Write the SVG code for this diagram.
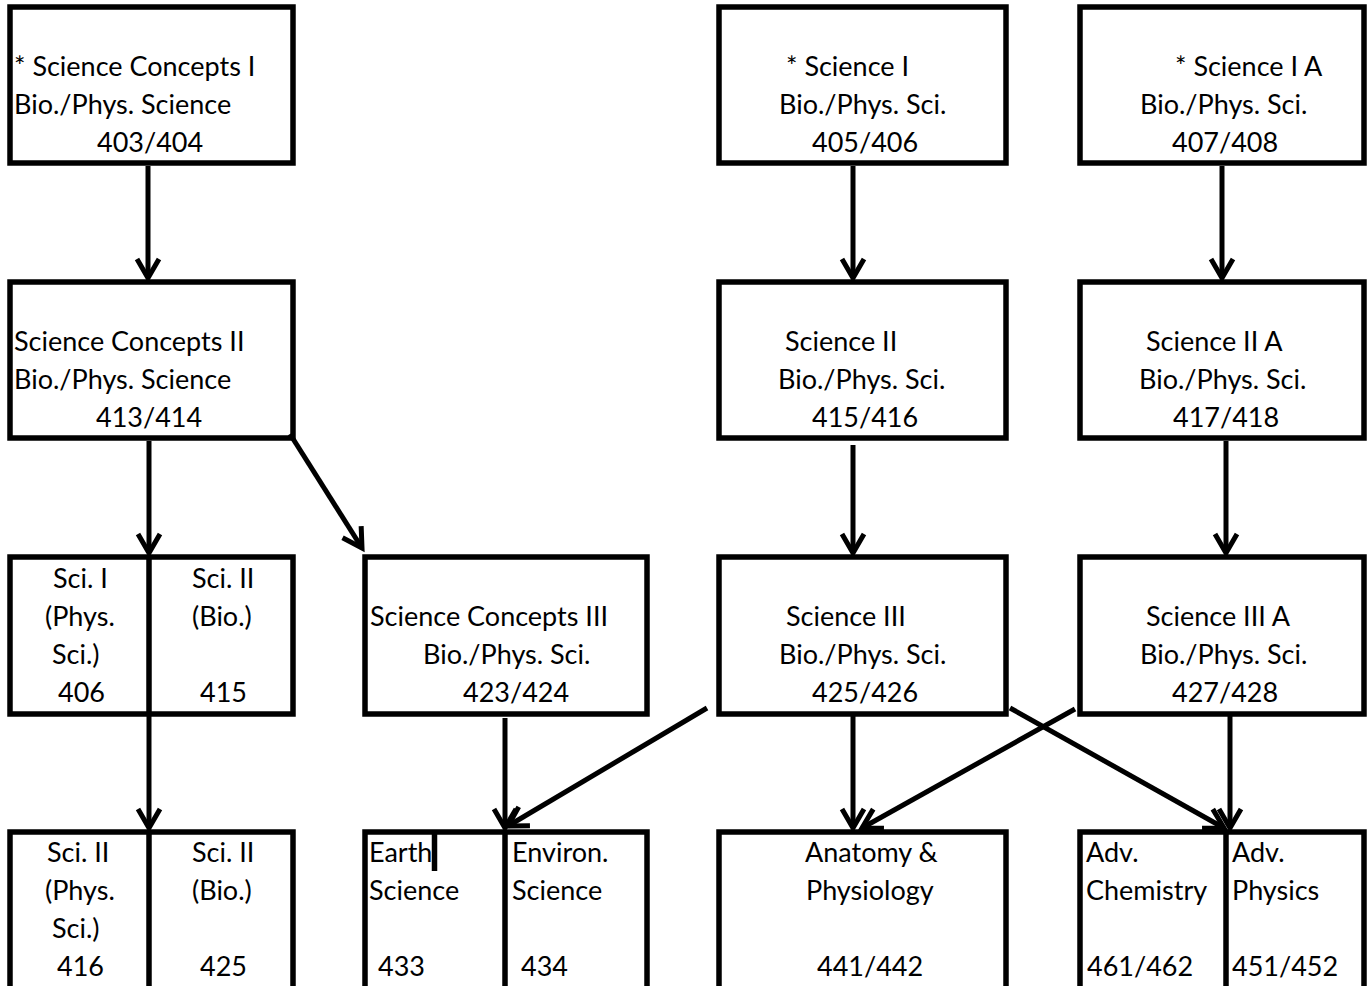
<svg xmlns="http://www.w3.org/2000/svg" width="1369" height="986" viewBox="0 0 1369 986">
<style>
.box{fill:#fff;stroke:#000;stroke-width:5.5}
.div{stroke:#000;stroke-width:5.5}
text{font-family:Lato,"Liberation Sans",sans-serif;font-size:27px;fill:#000}
.c{stroke:#000;stroke-width:5;fill:none}
</style>
<defs>
<marker id="ah" markerUnits="userSpaceOnUse" markerWidth="30" markerHeight="30" viewBox="-24 -15 30 30" refX="0" refY="0" orient="auto" overflow="visible">
<path d="M -19 -11 L 0 0 L -19 11" fill="none" stroke="#000" stroke-width="5"/>
</marker>
</defs>
<rect width="1369" height="986" fill="#fff"/>

<g id="n403">
<rect class="box" x="10" y="7" width="283" height="156"/>
<text x="14" y="76">* Science Concepts I</text>
<text x="14" y="114">Bio./Phys. Science</text>
<text x="97" y="152">403/404</text>
</g>
<g id="n405">
<rect class="box" x="719" y="7" width="287" height="156"/>
<text x="786" y="76">* Science I</text>
<text x="779" y="114">Bio./Phys. Sci.</text>
<text x="812" y="152">405/406</text>
</g>
<g id="n407">
<rect class="box" x="1080" y="7" width="284" height="156"/>
<text x="1175" y="76">* Science I A</text>
<text x="1140" y="114">Bio./Phys. Sci.</text>
<text x="1172" y="152">407/408</text>
</g>

<g id="n413">
<rect class="box" x="10" y="282" width="283" height="156"/>
<text x="14" y="351">Science Concepts II</text>
<text x="14" y="389">Bio./Phys. Science</text>
<text x="96" y="427">413/414</text>
</g>
<g id="n415">
<rect class="box" x="719" y="282" width="287" height="156"/>
<text x="785" y="351">Science II</text>
<text x="778" y="389">Bio./Phys. Sci.</text>
<text x="812" y="427">415/416</text>
</g>
<g id="n417">
<rect class="box" x="1080" y="282" width="284" height="156"/>
<text x="1146" y="351">Science II A</text>
<text x="1139" y="389">Bio./Phys. Sci.</text>
<text x="1173" y="427">417/418</text>
</g>

<g id="n406_415">
<rect class="box" x="10" y="557" width="283" height="157"/>
<line class="div" x1="149" y1="557" x2="149" y2="714"/>
<text x="53" y="588">Sci. I</text>
<text x="45" y="626">(Phys.</text>
<text x="52" y="664">Sci.)</text>
<text x="58" y="702">406</text>
<text x="192" y="588">Sci. II</text>
<text x="192" y="626">(Bio.)</text>
<text x="200" y="702">415</text>
</g>

<g id="n423">
<rect class="box" x="365" y="557" width="282" height="157"/>
<text x="370" y="626">Science Concepts III</text>
<text x="423" y="664">Bio./Phys. Sci.</text>
<text x="463" y="702">423/424</text>
</g>
<g id="n425">
<rect class="box" x="719" y="557" width="287" height="157"/>
<text x="786" y="626">Science III</text>
<text x="779" y="664">Bio./Phys. Sci.</text>
<text x="812" y="702">425/426</text>
</g>
<g id="n427">
<rect class="box" x="1080" y="557" width="284" height="157"/>
<text x="1146" y="626">Science III A</text>
<text x="1140" y="664">Bio./Phys. Sci.</text>
<text x="1172" y="702">427/428</text>
</g>

<g id="n416_425">
<rect class="box" x="10" y="832" width="283" height="170"/>
<line class="div" x1="149" y1="832" x2="149" y2="1000"/>
<text x="47" y="862">Sci. II</text>
<text x="45" y="900">(Phys.</text>
<text x="52" y="938">Sci.)</text>
<text x="57" y="976">416</text>
<text x="192" y="862">Sci. II</text>
<text x="192" y="900">(Bio.)</text>
<text x="200" y="976">425</text>
</g>
<g id="n433_434">
<rect class="box" x="365" y="832" width="282" height="170"/>
<line class="div" x1="505" y1="832" x2="505" y2="1000"/>
<line class="div" x1="434.5" y1="832" x2="434.5" y2="871"/>
<text x="369" y="862">Earth</text>
<text x="369" y="900">Science</text>
<text x="378" y="976">433</text>
<text x="512" y="862">Environ.</text>
<text x="512" y="900">Science</text>
<text x="521" y="976">434</text>
</g>
<g id="n441">
<rect class="box" x="719" y="832" width="287" height="170"/>
<text x="805" y="862">Anatomy &amp;</text>
<text x="806" y="900">Physiology</text>
<text x="817" y="976">441/442</text>
</g>
<g id="n461_451">
<rect class="box" x="1080" y="832" width="284" height="170"/>
<line class="div" x1="1226" y1="832" x2="1226" y2="1000"/>
<text x="1086" y="862">Adv.</text>
<text x="1086" y="900">Chemistry</text>
<text x="1087" y="976">461/462</text>
<text x="1232" y="862">Adv.</text>
<text x="1232" y="900">Physics</text>
<text x="1232" y="976">451/452</text>
</g>

<g id="connectors">
<line class="c" x1="148" y1="166" x2="148" y2="278" marker-end="url(#ah)"/>
<line class="c" x1="853" y1="166" x2="853" y2="278" marker-end="url(#ah)"/>
<line class="c" x1="1222" y1="166" x2="1222" y2="278" marker-end="url(#ah)"/>
<line class="c" x1="149" y1="441" x2="149" y2="553" marker-end="url(#ah)"/>
<line class="c" x1="290" y1="434" x2="362" y2="548" marker-end="url(#ah)"/>
<line class="c" x1="853" y1="445" x2="853" y2="553" marker-end="url(#ah)"/>
<line class="c" x1="1226" y1="441" x2="1226" y2="553" marker-end="url(#ah)"/>
<line class="c" x1="149" y1="716" x2="149" y2="828" marker-end="url(#ah)"/>
<line class="c" x1="505" y1="718" x2="505" y2="828" marker-end="url(#ah)"/>
<line class="c" x1="707" y1="708" x2="508" y2="826" marker-end="url(#ah)"/>
<line class="c" x1="853" y1="716" x2="853" y2="828" marker-end="url(#ah)"/>
<line class="c" x1="1010" y1="708" x2="1224" y2="828" marker-end="url(#ah)"/>
<line class="c" x1="1075" y1="709" x2="862" y2="828" marker-end="url(#ah)"/>
<line class="c" x1="1230" y1="716" x2="1230" y2="828" marker-end="url(#ah)"/>
</g>
</svg>
